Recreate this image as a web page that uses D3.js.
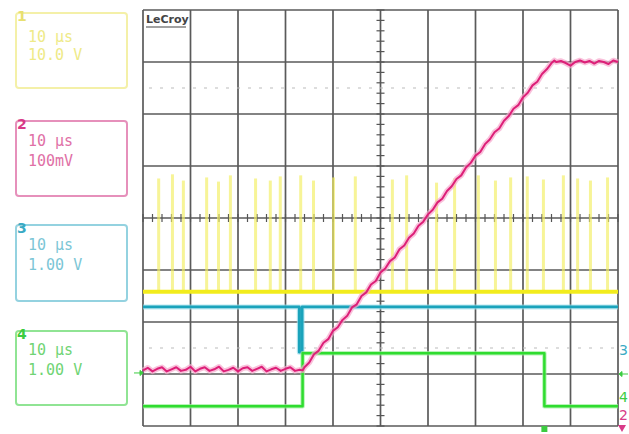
<!DOCTYPE html>
<html><head><meta charset="utf-8">
<script src="https://cdn.jsdelivr.net/npm/d3@7"></script>
<style>html,body{margin:0;padding:0;background:#fff;}svg{display:block;}</style>
</head><body>
<script>
// ---- data ----
const timeDomain = [-50, 50];          // µs (10 µs/div)
const divDomain = [-4, 4];             // vertical divisions
const xGridTicks = [-50,-40,-30,-20,-10,0,10,20,30,40,50];
const yGridTicks = [-4,-3,-2,-1,0,1,2,3,4];
const refLevels = [2.5, -2.5];

const channelNames = ["1","2","3","4"];
const channelTime = ["10 µs","10 µs","10 µs","10 µs"];
const channelScale = ["10.0 V","100mV","1.00 V","1.00 V"];

// Ch2 (pink) ramp
const pinkT = [-50,-49,-48,-47,-46,-45,-44,-43,-42,-41,-40,-39,-38,-37,-36,-35,-34,-33,-32,-31,-30,-29,-28,-27,-26,-25,-24,-23,-22,-21,-20,-19,-18,-17,-16.4,
 -16,-15,-14,-13,-12,-11,-10,-9,-8,-7,-6,-5,-4,-3,-2,-1,0,1,2,3,4,5,6,7,8,9,10,11,12,13,14,15,16,17,18,19,20,21,22,23,24,25,26,27,28,29,30,31,32,33,34,35,36,36.6,
 37,38,39,40,41,42,43,44,45,46,47,48,49,50];
const pinkV = [-2.93,-2.88,-2.95,-2.90,-2.87,-2.95,-2.91,-2.87,-2.94,-2.92,-2.86,-2.95,-2.90,-2.87,-2.94,-2.91,-2.86,-2.95,-2.92,-2.88,-2.95,-2.89,-2.87,-2.94,-2.90,-2.86,-2.95,-2.91,-2.88,-2.94,-2.90,-2.87,-2.94,-2.92,-2.93,
 -2.87,-2.78,-2.62,-2.55,-2.40,-2.33,-2.17,-2.10,-1.96,-1.88,-1.72,-1.66,-1.50,-1.43,-1.28,-1.21,-1.05,-0.97,-0.83,-0.76,-0.60,-0.53,-0.38,-0.30,-0.15,-0.07,0.07,0.16,0.30,0.37,0.52,0.61,0.75,0.82,0.97,1.06,1.20,1.27,1.42,1.51,1.65,1.72,1.87,1.96,2.10,2.17,2.32,2.41,2.55,2.62,2.77,2.86,2.98,3.03,
 3.00,3.02,2.98,2.93,3.00,3.03,2.99,3.02,2.97,3.02,3.00,2.96,3.03,3.00];

// Ch3 (cyan) narrow negative pulse
const cyanT = [-50,-17.1,-17.1,-16.5,-16.5,50];
const cyanV = [-1.71,-1.71,-2.58,-2.58,-1.71,-1.71];

// Ch4 (green) pulse
const greenT = [-50,-16.4,-16.4,34.5,34.5,50];
const greenV = [-3.62,-3.62,-2.60,-2.60,-3.62,-3.62];

// Ch1 (yellow) baseline and spikes
const yellowBase = -1.42;
const spikeT = [-46.7,-43.8,-41.5,-36.6,-34.1,-31.6,-26.3,-23.2,-21.1,-16.8,-14.1,-9.9,-5.3,2.5,5.5,11.8,15.6,20.6,24.2,27.4,30.9,34.3,38.5,41.5,44.2,47.8];
const spikeV = [0.76,0.84,0.72,0.78,0.70,0.82,0.76,0.72,0.80,0.82,0.72,0.78,0.80,0.74,0.82,0.68,0.76,0.82,0.72,0.78,0.80,0.74,0.82,0.76,0.72,0.78];

// ---- drawing ----
const W = 629, H = 434;
const svg = d3.select("body").append("svg").attr("width", W).attr("height", H);
const x = d3.scaleLinear().domain(timeDomain).range([143, 618]);
const y = d3.scaleLinear().domain(divDomain).range([426, 10]);

const grid = svg.append("g");
grid.selectAll("line.v").data(xGridTicks).join("line")
  .attr("x1", d => x(d)).attr("x2", d => x(d)).attr("y1", y(4)).attr("y2", y(-4))
  .attr("stroke", "#5a5a5a").attr("stroke-width", 1.7);
grid.selectAll("line.h").data(yGridTicks).join("line")
  .attr("x1", x(-50)).attr("x2", x(50)).attr("y1", d => y(d)).attr("y2", d => y(d))
  .attr("stroke", "#5a5a5a").attr("stroke-width", 1.7);

// center minor ticks
const hMinor = d3.range(-50, 50.01, 2);
const vMinor = d3.range(-4, 4.01, 0.2);
grid.selectAll("line.hm").data(hMinor).join("line")
  .attr("x1", d => x(d)).attr("x2", d => x(d)).attr("y1", y(0) - 4).attr("y2", y(0) + 4)
  .attr("stroke", "#555").attr("stroke-width", 1.2);
grid.selectAll("line.vm").data(vMinor).join("line")
  .attr("x1", x(0) - 4).attr("x2", x(0) + 4).attr("y1", d => y(d)).attr("y2", d => y(d))
  .attr("stroke", "#555").attr("stroke-width", 1.2);

// dashed reference levels
grid.selectAll("line.ref").data(refLevels).join("line")
  .attr("x1", x(-50) + 6).attr("x2", x(50)).attr("y1", d => y(d)).attr("y2", d => y(d))
  .attr("stroke", "#bbb").attr("stroke-width", 1.2).attr("stroke-dasharray", "3,8");

// LeCroy label
svg.append("text").attr("x", 146).attr("y", 23).text("LeCroy")
  .attr("font-family", "DejaVu Sans, sans-serif").attr("font-size", 11).attr("font-weight", "bold")
  .attr("fill", "#444");
svg.append("line").attr("x1", 146).attr("x2", 186).attr("y1", 27).attr("y2", 27)
  .attr("stroke", "#444").attr("stroke-width", 1.2);

const line = d3.line().x(d => x(d[0])).y(d => y(d[1]));

// yellow
const yg = svg.append("g");
yg.selectAll("line").data(spikeT.map((t, i) => [t, spikeV[i]])).join("line")
  .attr("x1", d => x(d[0])).attr("x2", d => x(d[0]))
  .attr("y1", y(yellowBase)).attr("y2", d => y(d[1]))
  .attr("stroke", "#f3ef60").attr("stroke-width", 3).attr("opacity", 0.65);
yg.append("line").attr("x1", x(-50)).attr("x2", x(50)).attr("y1", y(yellowBase)).attr("y2", y(yellowBase))
  .attr("stroke", "#f2ec1c").attr("stroke-width", 4);

function trace(ts, vs, halo, col, hw, w) {
  const pts = ts.map((t, i) => [t, vs[i]]);
  svg.append("path").attr("d", line(pts)).attr("fill", "none")
    .attr("stroke", halo).attr("stroke-width", hw).attr("stroke-linejoin", "round").attr("opacity", 0.7);
  svg.append("path").attr("d", line(pts)).attr("fill", "none")
    .attr("stroke", col).attr("stroke-width", w).attr("stroke-linejoin", "round");
}
trace(cyanT, cyanV, "#9fe0ec", "#1aa3bb", 5, 2.8);
trace(greenT, greenV, "#9df09d", "#2fdc2f", 4.5, 2.5);
trace(pinkT, pinkV, "#f6a6cc", "#dd1f78", 5.5, 2);

// left channel boxes
const boxes = [
  {y0: 13, y1: 88, stroke: "#f4f0a8", text: "#eeea88", num: "#e8e070", l1: 42, l2: 60},
  {y0: 121, y1: 196, stroke: "#e690bb", text: "#e070a6", num: "#d83a88", l1: 146, l2: 166},
  {y0: 225, y1: 301, stroke: "#94d2e0", text: "#7cc6d6", num: "#3aaac4", l1: 250, l2: 270},
  {y0: 331, y1: 405, stroke: "#90e494", text: "#70d474", num: "#3ccc40", l1: 355, l2: 375}
];
boxes.forEach((b, i) => {
  svg.append("rect").attr("x", 16).attr("y", b.y0).attr("width", 111).attr("height", b.y1 - b.y0)
    .attr("rx", 3).attr("fill", "none").attr("stroke", b.stroke).attr("stroke-width", 2);
  svg.append("text").attr("x", 17).attr("y", b.y0 + 8).text(channelNames[i])
    .attr("font-family", "DejaVu Sans, sans-serif").attr("font-size", 14).attr("font-weight", "bold")
    .attr("fill", b.num);
  svg.append("text").attr("x", 28).attr("y", b.l1).text(channelTime[i])
    .attr("font-family", "DejaVu Sans Mono, monospace").attr("font-size", 15).attr("fill", b.text);
  svg.append("text").attr("x", 28).attr("y", b.l2).text(channelScale[i])
    .attr("font-family", "DejaVu Sans Mono, monospace").attr("font-size", 15).attr("fill", b.text);
});

// markers
svg.append("path").attr("d", `M${x(-50)-9},${y(-2.98)} l6,0 l0,-2.5 l3,2.5 l-3,2.5 l0,-2.5`)
  .attr("fill", "#3ccc40").attr("stroke", "#3ccc40").attr("stroke-width", 1);
svg.append("text").attr("x", 619).attr("y", 355).text("3")
  .attr("font-family", "DejaVu Sans, sans-serif").attr("font-size", 14).attr("fill", "#3aaac4");
svg.append("path").attr("d", `M${x(50)+10},${y(-3.0)} l-6,0 l0,-2.5 l-3,2.5 l3,2.5 l0,-2.5`)
  .attr("fill", "#3ccc40").attr("stroke", "#3ccc40").attr("stroke-width", 1);
svg.append("text").attr("x", 619).attr("y", 402).text("4")
  .attr("font-family", "DejaVu Sans, sans-serif").attr("font-size", 14).attr("fill", "#3ccc40");
svg.append("text").attr("x", 619).attr("y", 420).text("2")
  .attr("font-family", "DejaVu Sans, sans-serif").attr("font-size", 14).attr("fill", "#d83a88");
svg.append("path").attr("d", `M618,425 l8,0 l-4,7 z`).attr("fill", "#d83a88");
svg.append("rect").attr("x", x(34.5) - 3).attr("y", 426).attr("width", 6).attr("height", 6).attr("fill", "#3ccc40");
</script>
</body></html>
